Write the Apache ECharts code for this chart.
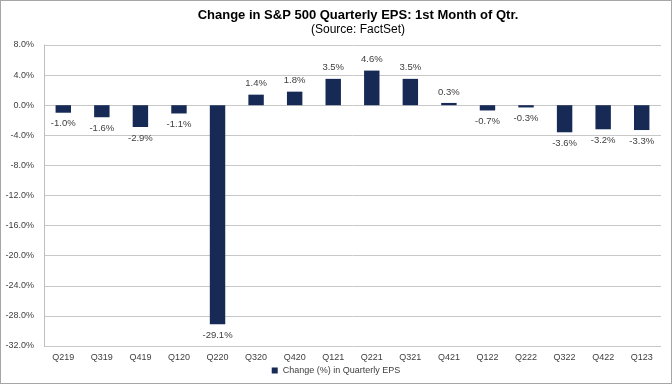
<!DOCTYPE html>
<html><head><meta charset="utf-8">
<script src="https://cdn.jsdelivr.net/npm/echarts@6/dist/echarts.min.js"></script>
<style>html,body{margin:0;padding:0;background:#fff}#c{width:672px;height:384px;box-sizing:border-box;border:1px solid #a6a6a6}</style>
</head><body><div id="c"></div>
<script>
const categories = ['Q219','Q319','Q419','Q120','Q220','Q320','Q420','Q121','Q221','Q321','Q421','Q122','Q222','Q322','Q422','Q123'];
const values = [-1.0,-1.6,-2.9,-1.1,-29.1,1.4,1.8,3.5,4.6,3.5,0.3,-0.7,-0.3,-3.6,-3.2,-3.3];
const seriesName = 'Change (%) in Quarterly EPS';
const titleText = 'Change in S&P 500 Quarterly EPS: 1st Month of Qtr.';
const subtitleText = '(Source: FactSet)';

const chart = echarts.init(document.getElementById('c'));
const font = 'Liberation Sans, Arial, sans-serif';
chart.setOption({
  animation: false,
  title: {
    text: titleText, subtext: subtitleText, left: 352, textAlign: 'center', top: 3, itemGap: 2,
    textStyle: {fontFamily: font, fontSize: 13, fontWeight: 'bold', color: '#000'},
    subtextStyle: {fontFamily: font, fontSize: 12, color: '#000'}
  },
  legend: {
    bottom: 3, left: 'center', itemWidth: 6, itemHeight: 6, icon: 'rect', itemGap: 4,
    textStyle: {fontFamily: font, fontSize: 9, color: '#404040'}
  },
  grid: {left: 43, right: 10, top: 44, bottom: 37},
  xAxis: {
    type: 'category', data: categories,
    axisLine: {show: false}, axisTick: {show: false},
    axisLabel: {fontFamily: font, fontSize: 9, color: '#404040', margin: 7, interval: 0},
  },
  yAxis: {
    type: 'value', min: -32, max: 8, interval: 4,
    axisLine: {show: true, lineStyle: {color: '#bfbfbf'}},
    axisTick: {show: false},
    splitLine: {lineStyle: {color: '#c8c8c8'}},
    axisLabel: {fontFamily: font, fontSize: 9, color: '#404040', margin: 10, formatter: v => v.toFixed(1) + '%'}
  },
  series: [{
    name: seriesName, type: 'bar', barWidth: '40%',
    itemStyle: {color: '#172a55'},
    data: values.map(v => ({value: v, label: {position: v >= 0 ? 'top' : 'bottom'}})),
    label: {show: true, fontFamily: font, fontSize: 9.5, color: '#404040', distance: 6,
      formatter: p => p.value.toFixed(1) + '%'}
  }]
});
</script></body></html>
